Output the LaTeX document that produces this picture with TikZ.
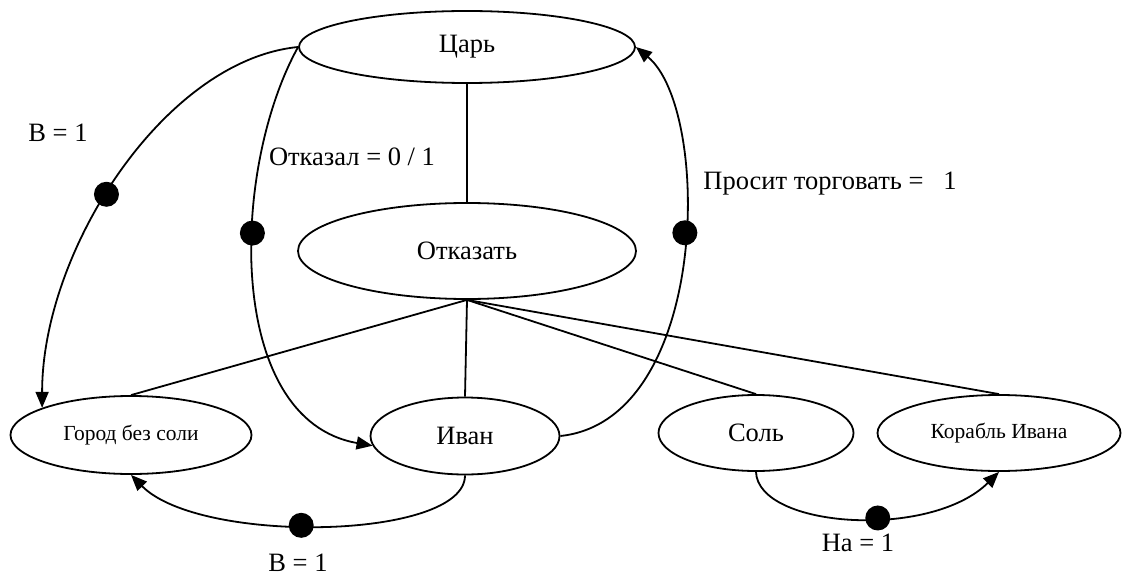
\documentclass[tikz,border=0pt]{standalone}
\usepackage{fontspec}
\setmainfont{Liberation Serif}
\usetikzlibrary{shapes.geometric,arrows.meta}
\tikzset{
  st/.style={draw, ellipse, line width=1.8pt, inner sep=0pt, font=\fontsize{26.5}{30}\selectfont},
  stsmall/.style={st, font=\fontsize{21.5}{25}\selectfont},
  lbl/.style={inner sep=0pt, font=\fontsize{26.5}{30}\selectfont},
  conn/.style={line width=1.8pt},
  arr/.style={conn, -{Triangle[length=16pt,width=13pt]}},
  bullet/.style={circle, fill=black, minimum size=25pt, inner sep=0pt},
}
\begin{document}
\begin{tikzpicture}[x=1pt,y=-1pt]
\useasboundingbox (0,0) rectangle (1123,580);
% states
\node[st, minimum width=336pt, minimum height=72pt] (tsar) at (467,47) {Царь};
\node[st, minimum width=338pt, minimum height=96pt] (otk) at (467,251) {Отказать};
\node[stsmall, minimum width=241pt, minimum height=78pt] (gorod) at (131,435) {Город без соли};
\node[st, minimum width=189pt, minimum height=77pt] (ivan) at (465,436) {Иван};
\node[st, minimum width=195pt, minimum height=76pt] (sol) at (756,433) {Соль};
\node[stsmall, minimum width=243pt, minimum height=76pt] (korabl) at (999,433) {Корабль Ивана};
% plain links
\draw[conn] (tsar.south) -- (otk.north);
\draw[conn] (otk.south) -- (gorod.north);
\draw[conn] (otk.south) -- (ivan.north);
\draw[conn] (otk.south) -- (sol.north);
\draw[conn] (otk.south) -- (korabl.north);
% arcs with bullets
\draw[arr] (tsar.west) .. controls (165,60) and (42,250) .. node[bullet, pos=0.55] (d1) {} (gorod.163);
\draw[arr] (tsar.west) .. controls (230,170) and (225,420) .. node[bullet, pos=0.4] (d2) {} (ivan.186);
\draw[arr] (ivan.east) .. controls (710,420) and (712,110) .. node[bullet, pos=0.55] (d3) {} (tsar.east);
\draw[arr] (ivan.south) .. controls (465,540) and (200,545) .. node[bullet, pos=0.55] (d4) {} (gorod.south);
\draw[arr] (sol.south) .. controls (758,528) and (930,540) .. node[bullet, pos=0.58] (d5) {} (korabl.south);
% labels
\node[lbl] (l1) at (58,133) {В = 1};
\node[lbl] (l2) at (352,157) {Отказал = 0 / 1};
\node[lbl] (l3) at (830,184) {Просит торговать =\ \ \ 1};
\node[lbl] (l4) at (298,563) {В = 1};
\node[lbl] (l5) at (858,543) {На = 1};
\end{tikzpicture}
\end{document}
